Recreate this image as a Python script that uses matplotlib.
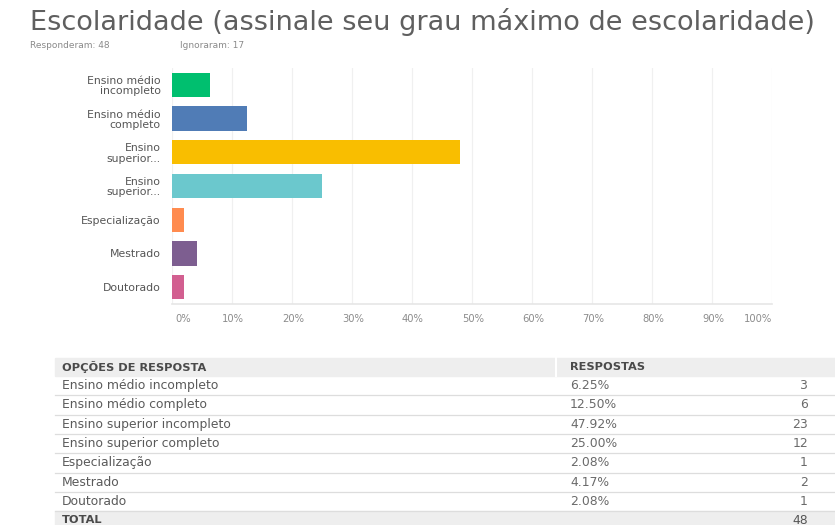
import matplotlib
matplotlib.use("Agg")
import matplotlib.pyplot as plt
from matplotlib.patches import Rectangle

# ---- data ----
title = "Escolaridade (assinale seu grau máximo de escolaridade)"
subtitle_answered = "Responderam: 48"
subtitle_skipped = "Ignoraram: 17"
bar_labels = ["Ensino médio\nincompleto", "Ensino médio\ncompleto", "Ensino\nsuperior...",
              "Ensino\nsuperior...", "Especialização", "Mestrado", "Doutorado"]
table_labels = ["Ensino médio incompleto", "Ensino médio completo", "Ensino superior incompleto",
                "Ensino superior completo", "Especialização", "Mestrado", "Doutorado"]
percents = [6.25, 12.50, 47.92, 25.00, 2.08, 4.17, 2.08]
counts = [3, 6, 23, 12, 1, 2, 1]
total = 48
colors = ["#00BF6F", "#507CB6", "#F9BE00", "#6BC8CD", "#FF8B4F", "#7D5E90", "#D25F90"]
xticks = [0, 10, 20, 30, 40, 50, 60, 70, 80, 90, 100]

W, H = 835, 525
fig = plt.figure(figsize=(W / 100, H / 100), dpi=100)
fig.patch.set_facecolor("white")

# background axes in pixel coordinates for title and table
bg = fig.add_axes([0, 0, 1, 1])
bg.set_xlim(0, W)
bg.set_ylim(H, 0)
bg.axis("off")

bg.text(30, 22, title, fontsize=19.5, color="#5f5f5f", va="center", ha="left",
        family="DejaVu Sans")
bg.text(30, 45, subtitle_answered, fontsize=6.5, color="#8a8a8a", va="center", ha="left")
bg.text(180, 45, subtitle_skipped, fontsize=6.5, color="#8a8a8a", va="center", ha="left")

# ---- bar chart ----
left, right, top, bottom = 172, 772, 68, 304
ax = fig.add_axes([left / W, (H - bottom) / H, (right - left) / W, (bottom - top) / H])
ax.set_facecolor("none")
y = list(range(len(percents)))
ax.barh(y, percents, height=0.72, color=colors, zorder=3)
ax.set_xlim(0, 100)
ax.set_ylim(len(percents) - 0.5, -0.5)
ax.set_xticks(xticks)
ax.set_xticklabels([])
ax.tick_params(axis="both", length=0)
ax.set_yticks(y)
ax.set_yticklabels(bar_labels, fontsize=7.8, color="#555555", linespacing=1.05)
ax.tick_params(axis="y", pad=8)
for lbl in ax.get_yticklabels():
    lbl.set_horizontalalignment("right")
ax.grid(axis="x", color="#f0f0f0", linewidth=0.9, zorder=0)
for s in ["top", "right", "left"]:
    ax.spines[s].set_visible(False)
ax.spines["bottom"].set_color("#e6e6e6")
ax.spines["bottom"].set_linewidth(1.2)

for t in xticks:
    ha = "left" if t == 0 else ("right" if t == 100 else "center")
    xoff = 3 if t == 0 else (0 if t == 100 else 1)
    ax.annotate(f"{t}%", xy=(t, 0), xycoords=("data", "axes fraction"),
                xytext=(xoff, -15), textcoords="offset pixels",
                ha=ha, va="center", fontsize=7.2, color="#8c8c8c")

# ---- table ----
tx0, tx1 = 55, W
row_h = 19.3
header_top = 358
bg.add_patch(Rectangle((tx0, header_top), tx1 - tx0, 18, color="#eeeeee", zorder=0))
bg.plot([556, 556], [header_top, header_top + 18], color="white", lw=1.5)
bg.text(62, header_top + 9, "OPÇÕES DE RESPOSTA", fontsize=8.2, weight="bold",
        color="#4a4a4a", va="center")
bg.text(570, header_top + 9, "RESPOSTAS", fontsize=8.2, weight="bold",
        color="#4a4a4a", va="center")

row0 = header_top + 18
for i, (lab, p, c) in enumerate(zip(table_labels, percents, counts)):
    yc = row0 + row_h * i + row_h / 2
    bg.text(62, yc, lab, fontsize=8.9, color="#5a5a5a", va="center")
    bg.text(570, yc, f"{p:.2f}%", fontsize=8.9, color="#6a6a6a", va="center")
    bg.text(808, yc, str(c), fontsize=8.9, color="#6a6a6a", va="center", ha="right")
    yl = row0 + row_h * (i + 1)
    bg.plot([tx0, tx1], [yl, yl], color="#dddddd", lw=0.9)

tot_top = row0 + row_h * len(percents)
bg.add_patch(Rectangle((tx0, tot_top), tx1 - tx0, H - tot_top, color="#eeeeee", zorder=0))
bg.text(62, tot_top + 9, "TOTAL", fontsize=8.2, weight="bold", color="#4a4a4a", va="center")
bg.text(808, tot_top + 9, str(total), fontsize=8.9, color="#555555", va="center", ha="right")

fig.savefig("out.png", dpi=100, facecolor="white")
